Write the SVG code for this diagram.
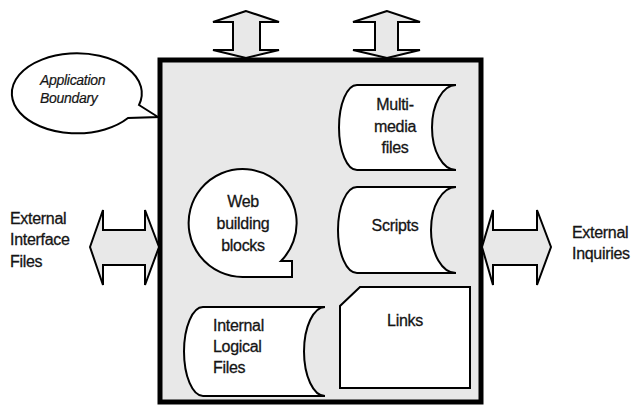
<svg xmlns="http://www.w3.org/2000/svg" width="636" height="405" viewBox="0 0 636 405">
  <style>
    .lbl { font-family: "Liberation Sans", Arial, sans-serif; font-size: 16px; fill: #151515; stroke: #151515; stroke-width: 0.3; letter-spacing: -0.3px; }
    .mid { text-anchor: middle; }
    .note { font-family: "Liberation Sans", Arial, sans-serif; font-size: 14px; font-style: italic; fill: #151515; stroke: #151515; stroke-width: 0.2; letter-spacing: -0.3px; }
    .shape { fill: #ffffff; stroke: #000000; stroke-width: 2; stroke-linejoin: miter; }
    .flow { fill: #e8e8e8; stroke: #000000; stroke-width: 2; stroke-linejoin: miter; }
  </style>
  <rect width="636" height="405" fill="#ffffff"/>

  <!-- application boundary -->
  <g id="boundary">
    <rect x="160" y="60" width="321" height="342" fill="#e8e8e8" stroke="#000000" stroke-width="5"/>
  </g>

  <!-- callout naming the boundary -->
  <g id="callout">
    <path class="shape" stroke-width="1.3" d="M 139,105 L 158,117 L 128,118 A 65 40 0 1 1 139,105 Z"/>
    <text class="note" x="40" y="85">Application</text>
    <text class="note" x="40" y="103">Boundary</text>
  </g>

  <!-- data flows crossing the boundary -->
  <g id="connectors">
    <polygon class="flow" points="246,11 213,22 233,22 233,50 213,50 246,58 279,50 260,50 260,22 279,22"/>
    <polygon class="flow" points="387,11 353,22 375,22 375,50 353,50 387,58 420,50 398,50 398,22 420,22"/>
    <polygon class="flow" points="90,247 103,210 103,230 145,230 145,210 159,247 145,285 145,265 103,265 103,285"/>
    <polygon class="flow" points="482,247 493,210 493,230 537,230 537,210 551,247 537,285 537,265 493,265 493,285"/>
  </g>

  <g id="external-interface-files">
    <text class="lbl" x="10" y="224">External</text>
    <text class="lbl" x="10" y="245">Interface</text>
    <text class="lbl" x="10" y="267">Files</text>
  </g>

  <g id="external-inquiries">
    <text class="lbl" x="572" y="238">External</text>
    <text class="lbl" x="572" y="259">Inquiries</text>
  </g>

  <g id="multimedia-files">
    <path class="shape" d="M 357,85 L 456,85 A 24 42.5 0 0 0 456,170 L 357,170 A 18 42.5 0 0 1 357,85 Z"/>
    <text class="lbl mid" x="395" y="110">Multi-</text>
    <text class="lbl mid" x="395" y="132">media</text>
    <text class="lbl mid" x="395" y="153">files</text>
  </g>

  <g id="scripts">
    <path class="shape" d="M 357,187 L 456,187 A 25 43 0 0 0 456,273 L 357,273 A 19 43 0 0 1 357,187 Z"/>
    <text class="lbl mid" x="395" y="231">Scripts</text>
  </g>

  <g id="web-building-blocks">
    <path class="shape" d="M 281,261 L 292,261 L 292,277 L 243,277 A 54 54 0 1 1 281,261 Z"/>
    <text class="lbl mid" x="243" y="207">Web</text>
    <text class="lbl mid" x="243" y="229">building</text>
    <text class="lbl mid" x="243" y="251">blocks</text>
  </g>

  <g id="links">
    <path class="shape" d="M 360,287 L 470,287 L 470,388 L 340,388 L 340,306 Z"/>
    <text class="lbl mid" x="405" y="326">Links</text>
  </g>

  <g id="internal-logical-files">
    <path class="shape" d="M 203,307 L 325,307 A 21 44.5 0 0 0 325,396 L 203,396 A 19 44.5 0 0 1 203,307 Z"/>
    <text class="lbl" x="213" y="331">Internal</text>
    <text class="lbl" x="213" y="352">Logical</text>
    <text class="lbl" x="213" y="373">Files</text>
  </g>
</svg>
